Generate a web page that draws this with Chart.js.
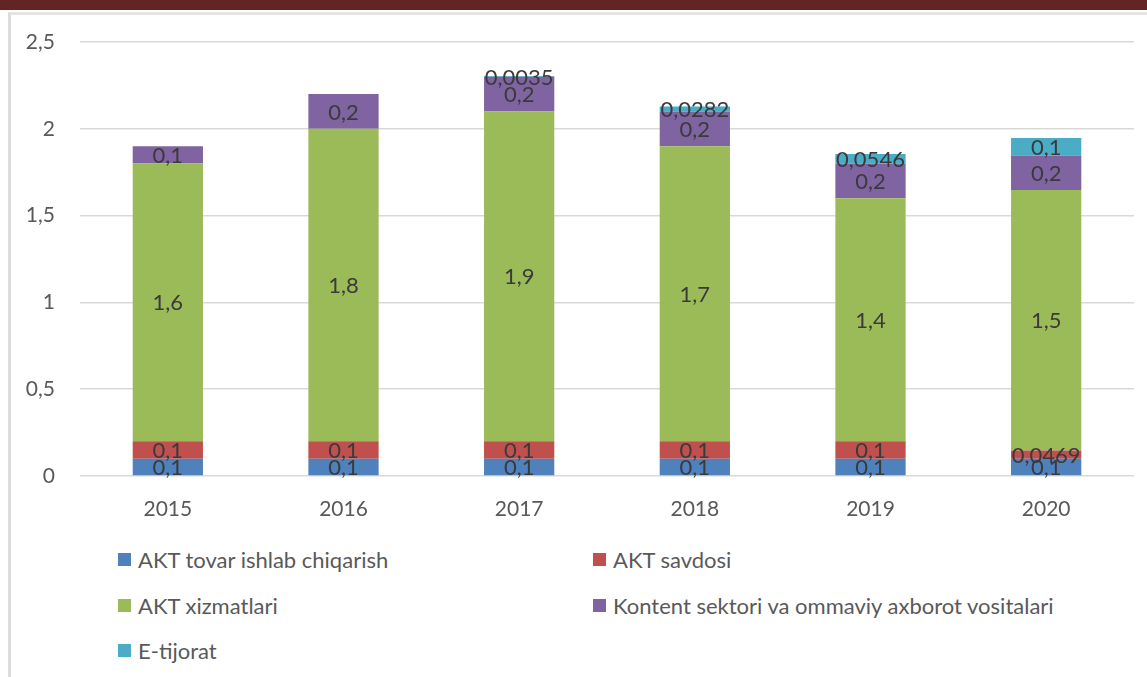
<!DOCTYPE html>
<html>
<head>
<meta charset="utf-8">
<script src="https://cdn.jsdelivr.net/npm/chart.js@4"></script>
<style>
  body { margin: 0; background: #fff; width: 1147px; height: 677px; overflow: hidden; position: relative; font-family: Lato, "Open Sans", sans-serif; }
  #band { position: absolute; left: 0; top: 0; width: 1147px; height: 10px; background: #632523; }
  #frame { position: absolute; left: 8px; top: 12px; width: 1150px; height: 700px; border-top: 3px solid #e3e3e3; border-left: 3px solid #dcdcdc; }
  #wrap { position: absolute; left: 0; top: 0; width: 1147px; height: 530px; }
  #legend { position: absolute; left: 118px; top: 537px; display: grid; grid-template-columns: 475px 520px; grid-auto-rows: 45.5px; }
  .item { display: flex; align-items: center; font-size: 22px; color: #595959; white-space: nowrap; }
  .box { width: 13px; height: 13px; margin-right: 7px; }
</style>
</head>
<body>
<div id="band"></div>
<div id="frame"></div>
<div id="wrap"><canvas id="chart" width="1147" height="530"></canvas></div>
<div id="legend"></div>
<script>
const years = ["2015", "2016", "2017", "2018", "2019", "2020"];
const seriesNames = [
  "AKT tovar ishlab chiqarish",
  "AKT savdosi",
  "AKT xizmatlari",
  "Kontent sektori va ommaviy axborot vositalari",
  "E-tijorat",
];
const seriesColors = ["#4F81BD", "#C0504D", "#9BBB59", "#8064A2", "#4BACC6"];

const tovar = [0.1, 0.1, 0.1, 0.1, 0.1, 0.1];
const savdo = [0.1, 0.1, 0.1, 0.1, 0.1, 0.0469];
const xizmat = [1.6, 1.8, 1.9, 1.7, 1.4, 1.5];
const kontent = [0.1, 0.2, 0.2, 0.2, 0.2, 0.2];
const etijorat = [null, null, 0.0035, 0.0282, 0.0546, 0.1];

const yTicks = [0, 0.5, 1, 1.5, 2, 2.5];

function commaNum(v) {
  return String(v).replace(".", ",");
}

// draws value labels centred on each stacked segment
const segmentLabels = {
  id: "segmentLabels",
  afterDatasetsDraw(chart) {
    const ctx = chart.ctx;
    ctx.save();
    ctx.font = "22px Lato";
    ctx.fillStyle = "#3a3a3a";
    ctx.textAlign = "center";
    ctx.textBaseline = "middle";
    chart.data.datasets.forEach((ds, i) => {
      const meta = chart.getDatasetMeta(i);
      meta.data.forEach((bar, j) => {
        const v = ds.data[j];
        if (v === null || v === undefined) return;
        const p = bar.getProps(["x", "y", "base"], true);
        ctx.fillText(commaNum(v), p.x, (p.y + p.base) / 2 + 1);
      });
    });
    ctx.restore();
  },
};

const seriesData = [tovar, savdo, xizmat, kontent, etijorat];
const datasets = seriesNames.map((name, i) => ({
  label: name,
  data: seriesData[i],
  backgroundColor: seriesColors[i],
  borderWidth: 0,
  barPercentage: 0.4,
  categoryPercentage: 1,
}));

const chart = new Chart(document.getElementById("chart").getContext("2d"), {
  type: "bar",
  data: { labels: years, datasets },
  plugins: [segmentLabels],
  options: {
    responsive: false,
    animation: false,
    layout: { padding: { left: 0, right: 13, top: 42, bottom: 0 } },
    plugins: { legend: { display: false }, tooltip: { enabled: false } },
    scales: {
      x: {
        stacked: true,
        grid: { display: false },
        border: { display: false },
        ticks: { font: { family: "Lato", size: 21 }, color: "#595959", padding: 13 },
        afterFit: (scale) => { scale.height = 54; },
      },
      y: {
        stacked: true,
        min: 0,
        max: 2.5,
        afterBuildTicks: (scale) => { scale.ticks = yTicks.map((v) => ({ value: v })); },
        grid: { color: "#d9d9d9", lineWidth: 1.5, drawTicks: false },
        border: { display: false },
        ticks: {
          font: { family: "Lato", size: 21 },
          color: "#595959",
          padding: 25,
          callback: (v) => commaNum(v),
        },
        afterFit: (scale) => { scale.width = 80; },
      },
    },
  },
});

const legendEl = document.getElementById("legend");
chart.data.datasets.forEach((ds) => {
  const item = document.createElement("div");
  item.className = "item";
  const box = document.createElement("span");
  box.className = "box";
  box.style.background = ds.backgroundColor;
  item.appendChild(box);
  item.appendChild(document.createTextNode(ds.label));
  legendEl.appendChild(item);
});
</script>
</body>
</html>
